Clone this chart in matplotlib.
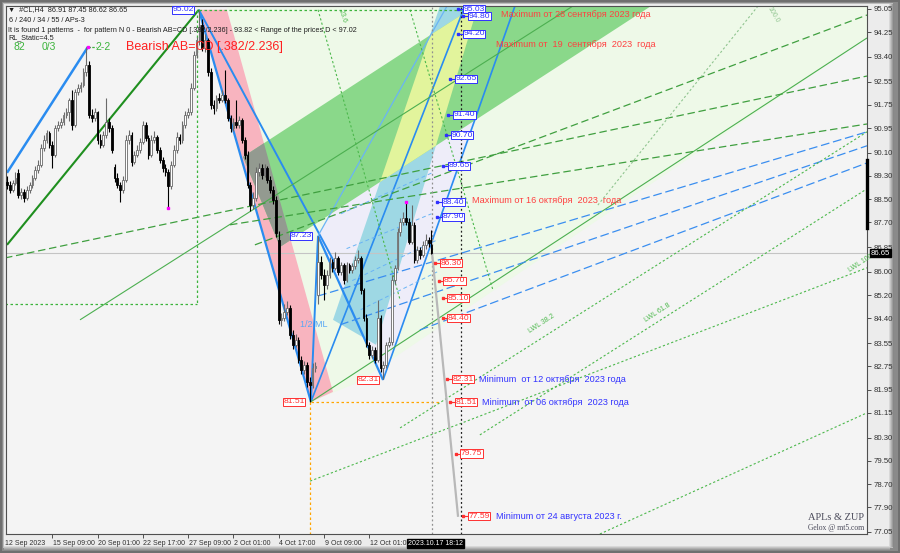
import matplotlib
matplotlib.use("Agg")
import matplotlib.pyplot as plt
import numpy as np
from matplotlib.patches import Polygon, Rectangle
from matplotlib.transforms import blended_transform_factory

# CL H4 candles, 12 Sep 17:00 .. 17 Oct 17:00
opens = [89.10, 88.99, 88.82, 89.06, 89.40, 88.65, 88.75, 88.55, 88.82, 88.99,
         89.23, 89.51, 89.68, 90.27, 90.54, 90.78, 90.37, 90.03, 90.95, 91.06,
         91.16, 91.40, 91.51, 91.92, 91.06, 92.19, 92.33, 92.43, 92.88, 93.12,
         91.40, 91.30, 91.51, 90.54, 90.37, 90.71, 91.16, 90.95, 89.60, 89.23,
         88.99, 88.82, 89.17, 90.54, 90.71, 89.78, 90.03, 90.20, 90.47, 91.06,
         90.61, 90.03, 90.54, 90.64, 90.20, 89.85, 89.58, 89.44, 88.96, 89.68,
         90.20, 90.64, 90.54, 91.06, 91.40, 91.51, 92.33, 93.47, 93.98, 94.50,
         93.71, 93.98, 92.88, 91.75, 91.64, 91.99, 91.92, 92.09, 91.92, 91.30,
         90.95, 91.16, 91.06, 91.23, 90.54, 90.03, 88.99, 88.30, 88.55, 89.44,
         89.58, 89.34, 89.58, 89.17, 88.82, 88.48, 87.10, 84.35, 84.42, 84.62,
         84.76, 83.83, 83.49, 83.66, 82.97, 82.63, 82.80, 82.21, 82.11, 82.70,
         85.21, 86.34, 85.90, 85.55, 85.90, 86.34, 86.14, 86.48, 86.00, 86.24,
         85.72, 86.24, 86.07, 86.21, 86.41, 86.48, 85.38, 84.42, 83.49, 83.14,
         83.32, 82.97, 84.42, 82.70, 82.80, 83.49, 83.59, 85.72, 86.14, 87.38,
         87.72, 87.86, 87.72, 87.03, 87.62, 86.41, 86.76, 86.58, 86.93, 87.10,
         86.91]
highs = [89.30, 89.12, 89.15, 89.45, 89.55, 88.90, 88.85, 88.95, 89.10, 89.35,
         89.65, 89.85, 90.40, 90.70, 90.90, 90.85, 90.50, 91.05, 91.20, 91.30,
         91.50, 91.65, 92.00, 92.25, 92.30, 92.45, 92.55, 93.00, 93.74, 93.25,
         91.60, 91.65, 91.55, 90.75, 90.85, 91.99, 91.30, 91.05, 89.70, 89.40,
         89.10, 89.30, 90.70, 90.90, 90.80, 90.15, 90.35, 90.60, 91.20, 91.15,
         90.70, 90.70, 90.85, 90.70, 90.30, 89.95, 89.70, 89.55, 89.80, 90.35,
         90.80, 90.75, 91.20, 91.55, 91.65, 92.50, 93.60, 94.10, 95.02, 94.70,
         94.20, 94.05, 93.00, 91.90, 92.10, 92.15, 92.25, 92.95, 92.00, 91.40,
         91.30, 91.92, 91.35, 91.30, 90.65, 90.15, 89.10, 88.75, 89.60, 89.75,
         89.70, 89.70, 89.65, 89.30, 88.95, 88.60, 87.40, 84.60, 84.90, 85.00,
         84.85, 84.00, 83.85, 83.75, 83.10, 82.95, 82.90, 82.40, 82.85, 82.90,
         87.23, 86.55, 86.10, 86.05, 86.50, 86.45, 86.70, 86.55, 86.35, 86.30,
         86.35, 86.30, 86.30, 86.55, 86.75, 86.55, 85.45, 84.55, 83.60, 83.45,
         83.40, 85.04, 84.50, 82.95, 83.60, 83.75, 85.90, 86.25, 87.50, 87.85,
         88.05, 88.40, 87.85, 88.30, 87.70, 86.90, 86.85, 87.05, 87.30, 87.20,
         87.45]
lows = [88.85, 88.70, 88.75, 89.00, 88.55, 88.50, 88.42, 88.48, 88.70, 88.90,
        89.15, 89.40, 89.60, 90.15, 90.45, 90.25, 89.58, 89.95, 90.85, 90.95,
        91.05, 91.30, 91.20, 90.90, 91.00, 92.10, 92.20, 92.35, 92.75, 91.30,
        91.15, 91.20, 90.40, 90.25, 90.30, 90.60, 90.80, 90.10, 89.10, 88.90,
        88.41, 88.70, 89.10, 90.40, 89.65, 89.70, 89.95, 90.10, 90.40, 90.50,
        89.90, 89.95, 90.45, 90.10, 89.75, 89.45, 89.30, 88.20, 88.85, 89.60,
        90.10, 90.40, 90.45, 90.95, 91.30, 91.40, 92.25, 93.35, 93.80, 93.60,
        93.55, 92.75, 91.60, 91.45, 91.55, 91.80, 91.85, 91.80, 91.20, 90.80,
        90.85, 90.95, 90.95, 90.45, 89.90, 88.90, 88.10, 88.15, 88.45, 89.30,
        89.20, 89.25, 89.05, 88.70, 88.35, 87.20, 84.20, 84.15, 84.30, 84.50,
        83.70, 83.35, 83.40, 82.85, 82.50, 82.50, 82.05, 81.51, 82.00, 82.55,
        84.90, 85.75, 85.04, 85.40, 85.80, 86.00, 86.05, 85.90, 85.90, 85.60,
        85.65, 85.95, 85.95, 86.10, 86.30, 85.25, 84.30, 83.40, 83.00, 83.05,
        82.85, 82.90, 82.55, 82.31, 82.70, 83.40, 83.50, 85.60, 86.05, 87.25,
        87.60, 87.60, 86.95, 86.95, 86.30, 86.30, 86.45, 86.50, 86.80, 86.85,
        86.62]
closes = [88.99, 88.82, 89.06, 89.23, 88.65, 88.75, 88.55, 88.82, 88.99, 89.23,
          89.51, 89.68, 90.27, 90.54, 90.78, 90.37, 90.03, 90.95, 91.06, 91.16,
          91.40, 91.51, 91.92, 91.06, 92.19, 92.33, 92.43, 92.88, 93.12, 91.40,
          91.30, 91.51, 90.54, 90.37, 90.71, 91.16, 90.95, 90.20, 89.23, 88.99,
          88.82, 89.17, 90.54, 90.71, 89.78, 90.03, 90.20, 90.47, 91.06, 90.61,
          90.03, 90.54, 90.64, 90.20, 89.85, 89.58, 89.44, 88.96, 89.68, 90.20,
          90.64, 90.54, 91.06, 91.40, 91.51, 92.33, 93.47, 93.98, 94.50, 93.71,
          93.98, 92.88, 91.75, 91.64, 91.99, 91.92, 92.09, 91.92, 91.30, 90.95,
          91.16, 91.06, 91.23, 90.54, 90.03, 88.99, 88.30, 88.55, 89.44, 89.58,
          89.34, 89.58, 89.17, 88.82, 88.48, 87.34, 84.35, 84.42, 84.62, 84.76,
          83.83, 83.49, 83.66, 82.97, 82.63, 82.80, 82.21, 82.11, 82.70, 82.76,
          86.34, 85.90, 85.55, 85.90, 86.34, 86.14, 86.48, 86.00, 86.24, 85.72,
          86.24, 86.07, 86.21, 86.41, 86.48, 85.38, 84.42, 83.49, 83.14, 83.32,
          82.97, 84.42, 82.70, 82.80, 83.49, 83.59, 85.72, 86.14, 87.38, 87.72,
          87.86, 87.72, 87.03, 87.62, 86.41, 86.76, 86.58, 86.93, 87.10, 86.99,
          86.65]

time_ticks = [16, 32, 48, 64, 80, 96, 112, 128]
time_labels = ["15 Sep 09:00", "20 Sep 01:00", "22 Sep 17:00", "27 Sep 09:00",
               "2 Oct 01:00", "4 Oct 17:00", "9 Oct 09:00", "12 Oct 01:0"]
price_ticks = [95.05, 94.25, 93.40, 92.55, 91.75, 90.95, 90.10, 89.30, 88.50,
               87.70, 86.85, 86.00, 85.20, 84.40, 83.55, 82.75, 81.95, 81.15,
               80.30, 79.50, 78.70, 77.90, 77.05]
last_price = 86.65

# target levels on the right (bar, price)
blue_levels = [(161.1, 95.03), (162.9, 94.80), (161.1, 94.20), (158.3, 92.65),
               (157.6, 91.40), (156.9, 90.70), (155.8, 89.65), (153.7, 88.40),
               (153.7, 87.90)]
red_levels = [(153.0, 86.30), (154.1, 85.70), (155.5, 85.10), (155.5, 84.40),
              (157.2, 82.31), (158.3, 81.51), (160.1, 79.75), (162.9, 77.59)]

FONT = ["Liberation Sans", "DejaVu Sans"]
W, H = 900, 553
fig = plt.figure(figsize=(9, 5.53), dpi=100, facecolor="#6f6f6f")


def frect(x0, y0, x1, y1, color, z=-10):
    fig.add_artist(Rectangle((x0 / W, 1 - y1 / H), (x1 - x0) / W, (y1 - y0) / H,
                             transform=fig.transFigure, color=color, lw=0, zorder=z))


# bevelled frame
frect(2, 2, 898, 551, "#8a8a8a")
frect(3, 3, 893, 548, "#bdbdbd")
frect(4, 4, 889, 546, "#ececec")
for k, c in enumerate(["#d8d8d8", "#c4c4c4", "#b0b0b0", "#9c9c9c", "#888888"]):
    frect(889 + k, 4, 890 + k, 547, c)
    frect(4, 546 + k, 890, 547 + k, c)

ax = fig.add_axes([6 / W, 19 / H, 861 / W, 528 / H])
ax.set_facecolor("#f4f4f4")
ax.set_xlim(-0.35, 303.9)
ax.set_ylim(76.98, 95.15)


def poly(pts, color, z=1, alpha=1.0, clip=None):
    p = Polygon(pts, closed=True, fc=color, ec="none", zorder=z, alpha=alpha)
    ax.add_patch(p)
    if clip is not None:
        p.set_clip_path(clip)
    return p


# filled objects
poly([(77.7, 95.15), (107.4, 81.53), (123.7, 82.18), (303.9, 94.05), (303.9, 95.15)], "#eef9e8", z=0.5)
poly([(109.9, 87.24), (155.5, 95.15), (179.5, 95.15), (155.5, 88.30), (132.9, 82.28)], "#eeedf9", z=0.6)
pink = poly([(67.8, 95.02), (77.7, 95.02), (115.2, 81.87), (107.4, 81.53)], "#f8b4bf", z=0.7)
green_pts = [(83.4, 89.96), (96.5, 86.86), (227.6, 95.15), (165.4, 95.15)]
teal_pts = [(115.2, 84.35), (130.4, 83.49), (166.4, 95.15), (153.0, 95.15)]
teal = poly(teal_pts, "#9ed8e4", z=0.8)
green = poly(green_pts, "#8ad88a", z=0.9)
poly(green_pts, "#939a90", z=1.0, clip=pink)
poly(green_pts, "#e2f49c", z=1.0, clip=teal)

# lines: (x0, p0, x1, p1, color, style, width)
lines = [
    (0, 89.41, 28.6, 93.74, "#2a8cf0", "-", 1.8),
    (67.8, 95.02, 107.4, 81.53, "#2a8cf0", "-", 1.6),
    (67.8, 95.02, 117.7, 85.97, "#2a8cf0", "-", 1.4),
    (107.4, 81.53, 109.9, 87.24, "#2a8cf0", "-", 1.4),
    (109.9, 87.24, 132.9, 82.28, "#2a8cf0", "-", 1.6),
    (132.9, 82.28, 179.5, 95.15, "#2a8cf0", "-", 1.2),
    (107.4, 81.53, 161.8, 95.15, "#2a8cf0", "-", 1.2),
    (109.9, 87.24, 155.5, 95.15, "#6ab4f5", "-", 0.9),
    (0, 86.93, 67.8, 95.02, "#1f8f1f", "-", 1.5),
    (25.8, 84.35, 200.0, 95.15, "#4caf50", "-", 0.8),
    (107.4, 81.53, 303.9, 94.05, "#4caf50", "-", 0.8),
    (-0.7, 86.48, 303.9, 92.74, "#3f9f3f", (0, (6, 3)), 0.9),
    (78.8, 87.62, 303.9, 91.09, "#3f9f3f", (0, (6, 3)), 0.9),
    (87.6, 86.93, 303.9, 94.84, "#3f9f3f", (0, (6, 3)), 0.9),
    (109.9, 85.17, 303.9, 90.82, "#3a8ef0", (0, (7, 3)), 0.9),
    (117.7, 84.18, 303.9, 90.34, "#3a8ef0", (0, (7, 3)), 0.9),
    (145.9, 84.00, 303.9, 89.75, "#3a8ef0", (0, (7, 3)), 0.9),
    (120.0, 86.80, 150.0, 88.00, "#6ab4f5", (0, (4, 3)), 0.7),
    (122.0, 85.70, 152.0, 87.10, "#6ab4f5", (0, (4, 3)), 0.7),
    (125.0, 84.70, 152.0, 86.00, "#6ab4f5", (0, (4, 3)), 0.7),
    (118.0, 88.00, 150.0, 89.40, "#6ab4f5", (0, (4, 3)), 0.7),
    (138.9, 80.63, 303.9, 90.82, "#4cb84c", (0, (2, 2)), 0.8),
    (167.1, 80.39, 303.9, 88.86, "#4cb84c", (0, (2, 2)), 0.8),
    (107.1, 78.80, 303.9, 86.14, "#4cb84c", (0, (2, 2)), 0.8),
    (209.5, 76.98, 303.9, 81.15, "#4cb84c", (0, (2, 2)), 0.8),
    (109.9, 95.02, 138.9, 85.04, "#4cb84c", (0, (2, 2)), 0.8),
    (142.4, 95.02, 171.7, 85.38, "#4cb84c", (0, (2, 2)), 0.8),
    (265.4, 95.15, 208.8, 88.30, "#8fc48f", (0, (2, 2)), 0.8),
    (67.1, 95.02, 67.1, 84.90, "#3cb43c", (0, (2, 2)), 0.9),
    (-0.7, 84.90, 67.1, 84.90, "#3cb43c", (0, (2, 2)), 0.9),
    (67.8, 95.02, 163.6, 95.02, "#3cb43c", (0, (2, 2)), 0.9),
    (28.6, 93.74, 31.5, 93.74, "#3cb43c", (0, (2, 1)), 0.9),
    (107.4, 81.53, 153.0, 81.53, "#ffa500", (0, (2, 2)), 0.9),
    (107.1, 81.53, 107.1, 76.98, "#ffa500", (0, (2, 2)), 0.9),
    (150.2, 76.98, 150.2, 95.15, "#909090", (0, (1.5, 2)), 0.9),
    (160.4, 76.98, 160.4, 95.15, "#202020", (0, (1.5, 2)), 0.9),
    (150.2, 86.65, 159.4, 77.57, "#b8b8b8", "-", 1.6),
]
for x0, p0, x1, p1, c, ls, lw in lines:
    ax.plot([x0, x1], [p0, p1], color=c, ls=ls, lw=lw, zorder=2, solid_capstyle="butt")

ax.axhline(last_price, color="#c4c4c4", lw=0.8, zorder=1.5)

# candles
o = np.array(opens); h = np.array(highs); l = np.array(lows); c = np.array(closes)
idx = np.arange(len(c))
up = c >= o
ax.vlines(idx, l, h, colors=np.where(up, "#6a6a6a", "black"), lw=0.8, zorder=3)
ax.bar(idx, np.maximum(np.abs(c - o), 0.03), bottom=np.minimum(o, c), width=0.62,
       color=np.where(up, "white", "black"), edgecolor=np.where(up, "#6a6a6a", "black"),
       lw=0.6, zorder=3.5)

ax.plot([28.6, 57, 141], [93.74, 88.20, 88.40], ls="none", marker="s", ms=2, color="#ff00ff", zorder=4)


def pbox(x, p, txt, col, fs=6.1):
    ax.text(x, p, txt, color=col, fontsize=fs, family=FONT, va="center", ha="left", zorder=6,
            bbox=dict(boxstyle="square,pad=0.06", fc="white", ec=col, lw=0.7))


for x, p in blue_levels:
    ax.plot([x - 1.6, x], [p, p], color="#3030ff", lw=0.8, zorder=5)
    ax.plot([x - 1.6], [p], marker="s", ms=1.8, color="#3030ff", zorder=5)
    pbox(x + 0.2, p, f"{p:.2f}", "#3030ff")
for x, p in red_levels:
    ax.plot([x - 1.6, x], [p, p], color="#ff3030", lw=0.8, zorder=5)
    ax.plot([x - 1.6], [p], marker="s", ms=1.8, color="#ff3030", zorder=5)
    pbox(x + 0.2, p, f"{p:.2f}", "#ff3030")

pbox(100.2, 87.24, "87.23", "#3030ff")
pbox(58.4, 95.02, "95.02", "#3030ff")
pbox(97.6, 81.53, "81.51", "#ff3030")
pbox(123.8, 82.29, "82.31", "#ff3030")

red = "#ff4040"
blue = "#3333ff"
notes = [
    (174.5, 94.87, "Maximum от 28 сентября 2023 года", red),
    (172.8, 93.84, "Maximum от  19  сентября  2023  года", red),
    (164.4, 88.45, "Maximum от 16 октября  2023  года", red),
    (166.8, 82.28, "Minimum  от 12 октября  2023 года", blue),
    (167.9, 81.52, "Minimum  от 06 октября  2023 года", blue),
    (172.8, 77.57, "Minimum от 24 августа 2023 г.", blue),
]
for x, p, txt, col in notes:
    ax.text(x, p, txt, color=col, fontsize=6.6, family=FONT, va="center", ha="left", zorder=6)

ax.text(42, 93.74, "Bearish AB=CD [.382/2.236]", color="#ff2020", fontsize=9, family=FONT,
        va="center", zorder=6)
ax.text(103.5, 84.18, "1/2 ML", color="#5aa8f5", fontsize=6.5, family=FONT, va="center", zorder=6)
ax.text(184, 83.9, "LWL 38.2", color="#4cb84c", fontsize=5, family=FONT, rotation=33, zorder=6)
ax.text(225, 84.3, "LWL 61.8", color="#4cb84c", fontsize=5, family=FONT, rotation=33, zorder=6)
ax.text(297, 86.0, "LWL 100.0", color="#4cb84c", fontsize=5, family=FONT, rotation=33, zorder=6)
ax.text(268, 94.6, "100.0", color="#8fc48f", fontsize=5, family=FONT, rotation=-60, zorder=6)
ax.text(116.5, 94.6, "23.6", color="#4cb84c", fontsize=5, family=FONT, rotation=-72, zorder=6)

# axes styling
for s in ax.spines.values():
    s.set_color("#505050")
    s.set_linewidth(0.8)
ax.yaxis.tick_right()
ax.set_yticks(price_ticks)
ax.set_yticklabels([f"{p:.2f}" for p in price_ticks])
ax.tick_params(axis="y", length=3, width=0.7, color="#505050", labelsize=5.6,
               labelcolor="#303030", pad=2)
ax.set_xticks(time_ticks)
ax.set_xticklabels([])
ax.tick_params(axis="x", length=3, width=0.7, color="#505050", direction="out")
for lab in ax.get_yticklabels():
    lab.set_family(FONT)

bt = blended_transform_factory(ax.transData, ax.transAxes)
ax.text(-0.6, -0.012, "12 Sep 2023", transform=bt, fontsize=5.0, family=FONT,
        color="#303030", va="top", ha="left")
for t, lab in zip(time_ticks, time_labels):
    ax.text(t + 0.2, -0.012, lab, transform=bt, fontsize=5.0, family=FONT,
            color="#303030", va="top", ha="left")
ax.text(141.8, -0.012, "2023.10.17 18:12", transform=bt, fontsize=5.0, family=FONT,
        color="white", va="top", ha="left", zorder=7,
        bbox=dict(boxstyle="square,pad=0.15", fc="black", ec="black"))

rt = blended_transform_factory(ax.transAxes, ax.transData)
ax.text(1.004, last_price, f"{last_price:.2f}", transform=rt, fontsize=5.6, family=FONT,
        color="white", va="center", ha="left", zorder=7,
        bbox=dict(boxstyle="square,pad=0.12", fc="black", ec="black"))
ax.plot([1.0, 1.0], [87.51, 89.85], transform=rt, color="black", lw=2.4, clip_on=False, zorder=7)


# header text
def ftext(x, y, s, **kw):
    kw.setdefault("family", FONT)
    fig.text(x / W, 1 - y / H, s, va="center", ha="left", **kw)


ftext(8, 10, "▼  #CL,H4  86.91 87.45 86.62 86.65", fontsize=5.2, color="#202020")
ftext(9, 21, "6 / 240 / 34 / 55 / APs-3", fontsize=5.2, color="#202020")
ftext(8, 30, "It is found 1 patterns  -  for pattern N 0 - Bearish AB=CD [.382/2.236] - 93.82 "
             "< Range of the prices D < 97.02", fontsize=5.2, color="#202020")
ftext(8, 38, "RL_Static=4.5", fontsize=5.2, color="#202020")
ftext(13, 47, "82", fontsize=7.5, color="#3cb43c")
ftext(42, 47, "0/3", fontsize=7.5, color="#3cb43c")
ftext(95, 47, "2-2", fontsize=7.5, color="#3cb43c")
ftext(808, 517, "APLs & ZUP", fontsize=7.5, color="#4a4a5a",
      family=["Liberation Serif", "DejaVu Serif"])
ftext(808, 528, "Gelox @ mt5.com", fontsize=5.5, color="#4a4a5a",
      family=["Liberation Serif", "DejaVu Serif"])

fig.savefig("out.png", dpi=100, facecolor=fig.get_facecolor())
